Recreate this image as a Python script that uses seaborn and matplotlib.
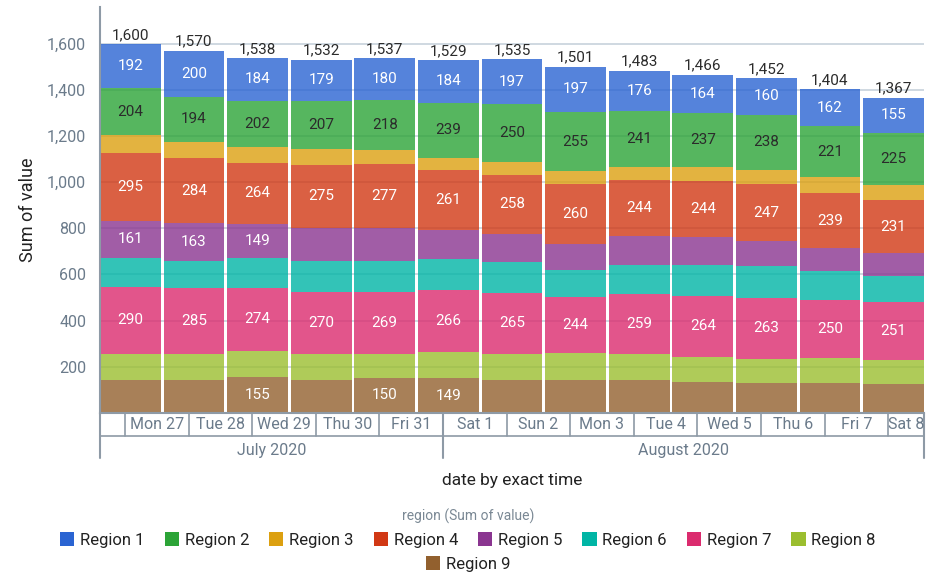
import numpy as np
import pandas as pd
import matplotlib.pyplot as plt
import seaborn as sns
from matplotlib.patches import Patch

# === DATA ===
days = ["Mon 27", "Tue 28", "Wed 29", "Thu 30", "Fri 31", "Sat 1", "Sun 2",
        "Mon 3", "Tue 4", "Wed 5", "Thu 6", "Fri 7", "Sat 8"]
months = ["July 2020", "August 2020"]
regions = ["Region 1", "Region 2", "Region 3", "Region 4", "Region 5",
           "Region 6", "Region 7", "Region 8", "Region 9"]

region_1 = [192, 200, 184, 179, 180, 184, 197, 197, 176, 164, 160, 162, 155]
region_2 = [204, 194, 202, 207, 218, 239, 250, 255, 241, 237, 238, 221, 225]
region_3 = [77, 70, 68, 70, 61, 51, 55, 56, 57, 59, 62, 68, 64]
region_4 = [295, 284, 264, 275, 277, 261, 258, 260, 244, 244, 247, 239, 231]
region_5 = [161, 163, 149, 142, 142, 126, 122, 113, 126, 120, 110, 101, 97]
region_6 = [125, 118, 128, 136, 134, 137, 133, 117, 125, 135, 138, 124, 115]
region_7 = [290, 285, 274, 270, 269, 266, 265, 244, 259, 264, 263, 250, 251]
region_8 = [113, 113, 114, 110, 106, 116, 115, 116, 112, 110, 105, 110, 103]
region_9 = [143, 143, 155, 143, 150, 149, 140, 143, 143, 133, 129, 129, 126]

region_colors = ["#2A64D2", "#2CA437", "#DCA010", "#D13814", "#8A3590",
                 "#00B5A5", "#DB2B6E", "#9BBE2F", "#92602E"]

values = dict(zip(regions, [region_1, region_2, region_3, region_4, region_5,
                            region_6, region_7, region_8, region_9]))

rows = []
for reg in regions:
    for i, v in enumerate(values[reg]):
        rows.append({"day": i, "region": reg, "value": v})
df = pd.DataFrame(rows)

# === STYLE ===
sns.set_theme(style="white")
plt.rcParams["font.family"] = ["Roboto", "DejaVu Sans"]
axis_col = "#8e9aa6"
tick_col = "#6b7b8b"
dark = "#2b2b2b"

fig = plt.figure(figsize=(9.36, 5.76), dpi=100)
ax = fig.add_axes([0.1068, 0.2835, 0.8803, 0.7043])

sns.histplot(data=df, x="day", weights="value", hue="region", hue_order=regions,
             palette=region_colors, multiple="stack", discrete=True, shrink=0.955,
             alpha=0.8, linewidth=0, edgecolor="none", legend=False, ax=ax)

# labels inside segments (stack from the bottom: Region 9 first)
bottom = np.zeros(len(days))
for reg in reversed(regions):
    vals = np.array(values[reg])
    col = dark if reg == "Region 2" else "white"
    for i, v in enumerate(vals):
        if v >= 145:
            ax.text(i, bottom[i] + v / 2, str(v), ha="center", va="center",
                    color=col, fontsize=11)
    bottom += vals

totals = df.groupby("day")["value"].sum()
for i, t in totals.items():
    ax.annotate(f"{t:,}", (i, t), xytext=(0, 1.5), textcoords="offset points",
                ha="center", va="bottom", fontsize=11, color=dark)

# === AXES ===
xl, xr = -0.4775, len(days) - 1 + 0.4775
ax.set_xlim(xl, xr)
ax.set_ylim(0, 1760)
yt = list(range(200, 1601, 200))
ax.set_yticks(yt)
ax.set_yticklabels([f"{v:,}" for v in yt])
ax.set_yticks([0], minor=True)
ax.tick_params(axis="y", which="major", length=0, pad=10, labelsize=11.5, labelcolor=tick_col)
ax.tick_params(axis="y", which="minor", length=7, width=1.5, color=axis_col)
ax.set_xticks([])
ax.set_xlabel("")
ax.set_ylabel("")
ax.yaxis.grid(True, color="#ccd6de", lw=1.3)
ax.set_axisbelow(True)
for s in ["top", "right"]:
    ax.spines[s].set_visible(False)
for s in ["left", "bottom"]:
    ax.spines[s].set_color(axis_col)
    ax.spines[s].set_linewidth(1.5)

# === DATE TABLE UNDER THE AXIS ===
trans = ax.get_xaxis_transform()
d = 0.085
row_h, month_h = -0.0574, -0.1117
line_kw = dict(color=axis_col, transform=trans, clip_on=False)
for i in range(len(days)):
    ax.plot([i - d, i - d], [0, row_h], lw=1.2, **line_kw)
ax.plot([xl, xr], [row_h, row_h], lw=1.2, **line_kw)

day_nums = [int(s.split()[1]) for s in days]
split = next(i for i in range(1, len(days)) if day_nums[i] < day_nums[i - 1])
for xv in [xl, split - d, xr]:
    ax.plot([xv, xv], [0, month_h], lw=1.5, **line_kw)

for i, lab in enumerate(days):
    left, right = i - d, min(i + 1 - d, xr)
    ax.text((left + right) / 2, row_h / 2, lab, transform=trans, ha="center",
            va="center", fontsize=11.5, color=tick_col)
month_edges = [xl, split - d, xr]
for k, m in enumerate(months):
    ax.text((month_edges[k] + month_edges[k + 1]) / 2, (row_h + month_h) / 2 - 0.008, m,
            transform=trans, ha="center", va="center", fontsize=11.5, color=tick_col)

fig.text(28 / 936, 1 - 210 / 576, "Sum of value", rotation=90, ha="center",
         va="center", fontsize=13, color="#222222")
fig.text(512 / 936, 1 - 481 / 576, "date by exact time", ha="center",
         va="center", fontsize=12.5, color="#222222")

# === LEGEND ===
fig.text(468 / 936, 1 - 516 / 576, "region (Sum of value)", ha="center",
         va="center", fontsize=10, color="#7a8894")
handles = [Patch(facecolor=c, edgecolor="none", label=r) for r, c in zip(regions, region_colors)]
leg_kw = dict(loc="center", frameon=False, fontsize=12, handlelength=0.85,
              handleheight=0.9, handletextpad=0.35, columnspacing=1.2, labelcolor="#222222")
fig.legend(handles=handles[:8], bbox_to_anchor=(468 / 936, 1 - 540 / 576), ncol=8, **leg_kw)
fig.legend(handles=handles[8:], bbox_to_anchor=(468 / 936, 1 - 564 / 576), ncol=1, **leg_kw)

fig.savefig("out.png", dpi=100)
